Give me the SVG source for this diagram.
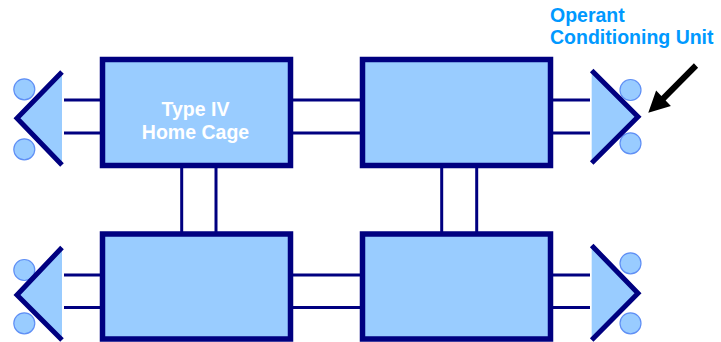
<svg xmlns="http://www.w3.org/2000/svg" width="721" height="342" viewBox="0 0 721 342">
<style>
.box{fill:#99ccff;stroke:#000080;stroke-width:5.5}
.con{stroke:#000080;stroke-width:3;fill:none}
.tri{fill:#99ccff;stroke:none}
.edge{fill:none;stroke:#000080;stroke-width:5;stroke-linejoin:miter}
.knob{fill:#99ccff;stroke:#5f8ff5;stroke-width:1.2}
.lbl{font-family:"Liberation Sans",Arial,sans-serif;font-weight:bold;font-size:19.5px;fill:#ffffff;text-anchor:middle}
.title{font-family:"Liberation Sans",Arial,sans-serif;font-weight:bold;font-size:19.5px;fill:#0099ff}
</style>
<rect width="721" height="342" fill="#ffffff"/>
<g id="connectors">
<line class="con" x1="64" y1="100" x2="101" y2="100"/>
<line class="con" x1="64" y1="133" x2="101" y2="133"/>
<line class="con" x1="292" y1="100" x2="361" y2="100"/>
<line class="con" x1="292" y1="133" x2="361" y2="133"/>
<line class="con" x1="552" y1="100" x2="590" y2="100"/>
<line class="con" x1="552" y1="133" x2="590" y2="133"/>
<line class="con" x1="64" y1="275" x2="101" y2="275"/>
<line class="con" x1="64" y1="307.5" x2="101" y2="307.5"/>
<line class="con" x1="292" y1="275" x2="361" y2="275"/>
<line class="con" x1="292" y1="307.5" x2="361" y2="307.5"/>
<line class="con" x1="552" y1="275" x2="590" y2="275"/>
<line class="con" x1="552" y1="307.5" x2="590" y2="307.5"/>
<line class="con" x1="181.7" y1="167" x2="181.7" y2="233"/>
<line class="con" x1="216" y1="167" x2="216" y2="233"/>
<line class="con" x1="441.7" y1="167" x2="441.7" y2="233"/>
<line class="con" x1="476.7" y1="167" x2="476.7" y2="233"/>
</g>
<g id="cage1">
<rect class="box" x="102.5" y="59.5" width="188" height="106"/>
<text class="lbl" x="195.5" y="116">Type IV</text>
<text class="lbl" x="195.5" y="138.5">Home Cage</text>
</g>
<g id="cage2">
<rect class="box" x="362.5" y="59.5" width="188" height="106"/>
</g>
<g id="cage3">
<rect class="box" x="102.5" y="234" width="188" height="105"/>
</g>
<g id="cage4">
<rect class="box" x="362.5" y="234" width="188" height="105"/>
</g>
<g id="unit-left-top">
<circle class="knob" cx="24.3" cy="89.3" r="10.5"/>
<circle class="knob" cx="24.3" cy="149.3" r="10.5"/>
<polygon class="tri" points="62,72 17,118.3 62,165"/>
<polyline class="edge" points="62,72 17,118.3 62,165"/>
</g>
<g id="unit-left-bottom">
<circle class="knob" cx="24.3" cy="270" r="10.5"/>
<circle class="knob" cx="24.3" cy="323.3" r="10.5"/>
<polygon class="tri" points="62,247.5 17,295 62,340"/>
<polyline class="edge" points="62,247.5 17,295 62,340"/>
</g>
<g id="unit-right-top">
<circle class="knob" cx="630.5" cy="90" r="10.5"/>
<circle class="knob" cx="630.5" cy="143.3" r="10.5"/>
<polygon class="tri" points="591.7,70.5 638,116.7 591.7,163"/>
<polyline class="edge" points="591.7,70.5 638,116.7 591.7,163"/>
</g>
<g id="unit-right-bottom">
<circle class="knob" cx="630.5" cy="263.3" r="10.5"/>
<circle class="knob" cx="630.5" cy="323.3" r="10.5"/>
<polygon class="tri" points="591.7,245.5 638,293.3 591.7,340"/>
<polyline class="edge" points="591.7,245.5 638,293.3 591.7,340"/>
</g>
<g id="callout">
<text class="title" x="550" y="22">Operant</text>
<text class="title" x="550" y="44">Conditioning Unit</text>
<polygon fill="#000000" points="648.3,112.7 656.1,90.4 661.4,96 693.9,63.3 698.1,67.7 665.6,100.4 670.9,106"/>
</g>
</svg>
